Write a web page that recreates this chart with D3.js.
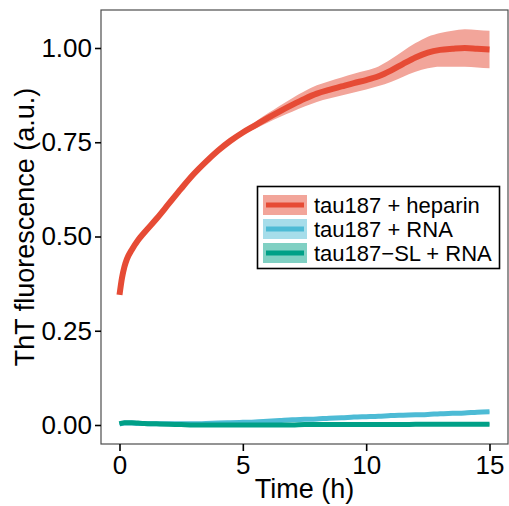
<!DOCTYPE html>
<meta charset="utf-8">
<script src="https://cdn.jsdelivr.net/npm/d3@7"></script>
<style>
body { margin: 0; background: #fff; }
text { font-family: "Liberation Sans", Arial, sans-serif; fill: #000; }
</style>
<body>
<script>

var width = 509
var height = 506

// time points (h)
var time = [0, 0.1, 0.2, 0.3, 0.5, 0.75, 1, 1.5, 2, 2.5, 3, 3.5, 4, 4.5, 5, 5.5, 6, 6.5, 7, 7.5,
            8, 8.5, 9, 9.5, 10, 10.5, 11, 11.5, 12, 12.5, 13, 13.5, 14, 14.5, 15]

// mean ThT signal per condition
var heparin = [0.345, 0.39, 0.42, 0.44, 0.465, 0.49, 0.51, 0.547, 0.587, 0.627, 0.665, 0.698, 0.728, 0.754, 0.776, 0.795, 0.814, 0.832, 0.849, 0.865,
               0.879, 0.889, 0.898, 0.907, 0.915, 0.925, 0.94, 0.958, 0.975, 0.988, 0.995, 0.998, 1.0, 0.998, 0.996]
var rna = [0.003, 0.004, 0.005, 0.005, 0.005, 0.004, 0.004, 0.003, 0.003, 0.003, 0.003, 0.004, 0.005, 0.006, 0.007, 0.008, 0.01, 0.012, 0.014, 0.015,
           0.016, 0.018, 0.019, 0.021, 0.022, 0.023, 0.025, 0.026, 0.027, 0.028, 0.03, 0.031, 0.032, 0.034, 0.035]
var slrna = [0.003, 0.005, 0.006, 0.006, 0.006, 0.005, 0.004, 0.003, 0.002, 0.001, 0.0, 0.0, 0.0, 0.0, 0.0, 0.0, 0.0, 0.0, 0.0, 0.001,
             0.001, 0.001, 0.001, 0.001, 0.001, 0.001, 0.001, 0.001, 0.002, 0.002, 0.002, 0.002, 0.002, 0.002, 0.002]

// spread (ribbon half-width)
var heparinSd = [0.002, 0.002, 0.002, 0.002, 0.002, 0.002, 0.002, 0.002, 0.002, 0.002, 0.002, 0.003, 0.003, 0.004, 0.006, 0.009, 0.012, 0.015, 0.018, 0.02,
                 0.022, 0.023, 0.024, 0.025, 0.025, 0.026, 0.03, 0.034, 0.038, 0.042, 0.045, 0.048, 0.05, 0.05, 0.05]
var smallSd = time.map(function() { return 0.003; })

var labels = ["tau187 + heparin", "tau187 + RNA", "tau187\u2212SL + RNA"]
var colors = ["#E64B35", "#4DBBD5", "#00A087"]
var fills = ["#F2A59A", "#A6DDEA", "#80D0C3"]

var xTicks = [0, 5, 10, 15]
var yTicks = [0, 0.25, 0.5, 0.75, 1.0]

var series = [
  { mean: heparin, sd: heparinSd },
  { mean: rna, sd: smallSd },
  { mean: slrna, sd: smallSd }
]

var svg = d3.select("body").append("svg")
            .attr("width", width)
            .attr("height", height)

var pLeft = 101, pRight = 508, pTop = 10, pBottom = 444

var x = d3.scaleLinear().domain([-0.75, 15.75]).range([pLeft, pRight])
var y = d3.scaleLinear().domain([-0.0504, 1.1008]).range([pBottom, pTop])

var area = d3.area()
  .x(function(d) { return x(d.t) })
  .y0(function(d) { return y(d.m - d.s) })
  .y1(function(d) { return y(d.m + d.s) })
  .curve(d3.curveMonotoneX)

var line = d3.line()
  .x(function(d) { return x(d.t) })
  .y(function(d) { return y(d.m) })
  .curve(d3.curveMonotoneX)

var rows = series.map(function(s) {
  return time.map(function(t, i) { return { t: t, m: s.mean[i], s: s.sd[i] } })
})

svg.selectAll(".ribbon")
  .data(rows)
  .enter().append("path")
    .attr("class", "ribbon")
    .attr("d", area)
    .attr("fill", function(d, i) { return fills[i] })

svg.selectAll(".curve")
  .data(rows)
  .enter().append("path")
    .attr("class", "curve")
    .attr("d", line)
    .attr("fill", "none")
    .attr("stroke", function(d, i) { return colors[i] })
    .attr("stroke-width", function(d, i) { return i == 0 ? 6 : 5 })

// panel border
svg.append("rect")
  .attr("x", pLeft).attr("y", pTop)
  .attr("width", pRight - pLeft).attr("height", pBottom - pTop)
  .attr("fill", "none")
  .attr("stroke", "#4d4d4d")
  .attr("stroke-width", 1.2)

// axes
var xAxis = svg.append("g")
  .attr("transform", "translate(0," + pBottom + ")")
  .call(d3.axisBottom(x).tickValues(xTicks).tickSize(7).tickPadding(5).tickFormat(d3.format("d")))
xAxis.select(".domain").remove()
xAxis.selectAll("line").attr("stroke", "#000").attr("stroke-width", 1.6)
xAxis.selectAll("text").style("font-size", "26px").attr("font-family", null)

var yAxis = svg.append("g")
  .attr("transform", "translate(" + pLeft + ",0)")
  .call(d3.axisLeft(y).tickValues(yTicks).tickSize(6).tickPadding(3).tickFormat(d3.format(".2f")))
yAxis.select(".domain").remove()
yAxis.selectAll("line").attr("stroke", "#000").attr("stroke-width", 1.6)
yAxis.selectAll("text").style("font-size", "26px").attr("font-family", null)

svg.append("text")
  .attr("x", (pLeft + pRight) / 2).attr("y", 498)
  .attr("text-anchor", "middle")
  .style("font-size", "27px")
  .text("Time (h)")

svg.append("text")
  .attr("transform", "translate(34," + (pTop + pBottom) / 2 + ") rotate(-90)")
  .attr("text-anchor", "middle")
  .style("font-size", "27px")
  .text("ThT fluorescence (a.u.)")

// legend
var legend = svg.append("g")
legend.append("rect")
  .attr("x", 257.5).attr("y", 186.5).attr("width", 242).attr("height", 82)
  .attr("fill", "#fff").attr("stroke", "#000").attr("stroke-width", 1.6)

var key = legend.selectAll(".key")
  .data(labels)
  .enter().append("g")
    .attr("transform", function(d, i) { return "translate(263," + (205 + i * 24) + ")" })

key.append("rect")
  .attr("x", 0).attr("y", -10).attr("width", 44).attr("height", 20)
  .attr("fill", function(d, i) { return fills[i] })
key.append("line")
  .attr("x1", 3).attr("x2", 41)
  .attr("stroke", function(d, i) { return colors[i] })
  .attr("stroke-width", 5)
key.append("text")
  .attr("x", 51).attr("y", 8)
  .style("font-size", "22px")
  .text(function(d) { return d })

</script>
</body>
